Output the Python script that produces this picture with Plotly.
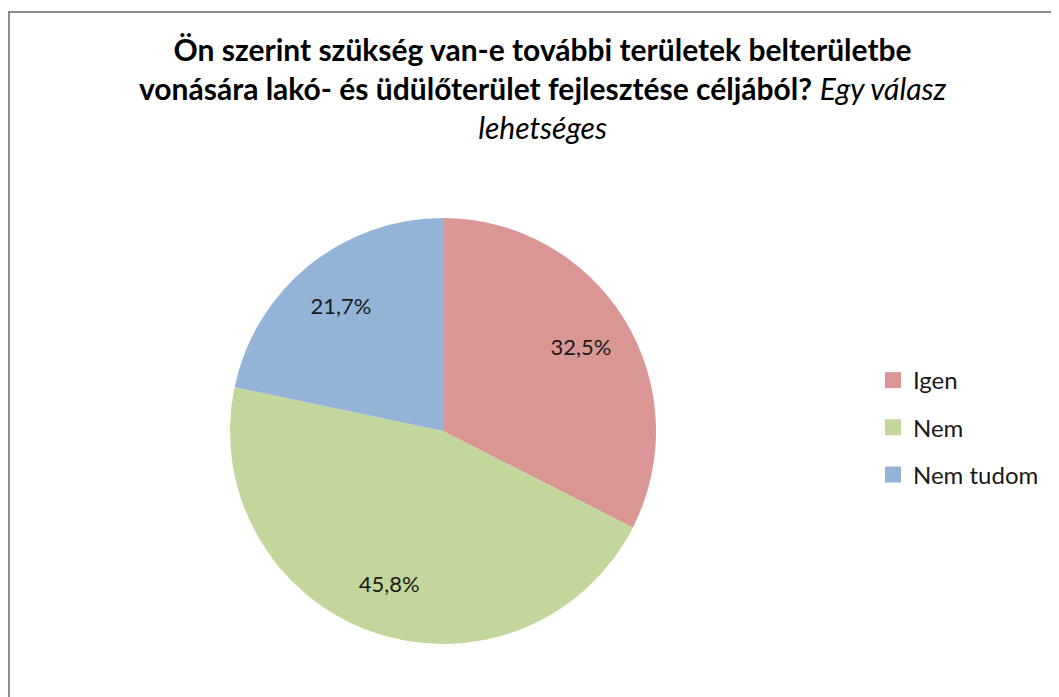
import plotly.graph_objects as go

categories = ["Igen", "Nem", "Nem tudom"]
values = [32.5, 45.8, 21.7]
colors = ["#D99694", "#C3D69B", "#95B3D7"]

title_line1 = "Ön szerint szükség van-e további területek belterületbe"
title_line2 = "vonására lakó- és üdülőterület fejlesztése céljából?"
title_italic1 = "Egy válasz"
title_italic2 = "lehetséges"

W, H = 1059, 697
FONT = "Lato, 'Noto Sans', sans-serif"
dom = dict(x=[222 / W, 648 / W], y=[1 - 636 / H, 1 - 210 / H])

fig = go.Figure()
# main pie (colours)
fig.add_trace(go.Pie(
    labels=categories, values=values, sort=False, direction="clockwise",
    rotation=0, marker=dict(colors=colors, line=dict(width=0)),
    textinfo="none", showlegend=False, hoverinfo="label+percent",
    domain=dom,
))
# transparent overlay ring used only to place the value labels further out
fig.add_trace(go.Pie(
    labels=categories, values=values, sort=False, direction="clockwise",
    rotation=0, hole=0.52,
    marker=dict(colors=["rgba(0,0,0,0)"] * 3, line=dict(width=0)),
    texttemplate="%{value:.1f}%", textposition="inside",
    insidetextorientation="horizontal",
    textfont=dict(family=FONT, size=22, color="#1a1a1a"),
    showlegend=False, hoverinfo="skip",
    domain=dom,
))

for c, col in zip(categories, colors):
    fig.add_trace(go.Scatter(
        x=[None], y=[None], mode="markers", name=c, legendgroup=c,
        marker=dict(symbol="square", size=16, color=col),
    ))

fig.add_annotation(
    xref="paper", yref="paper", x=534 / W, y=1 - 21 / H,
    xanchor="center", yanchor="top", showarrow=False, align="center",
    text=f"<b>{title_line1}<br>{title_line2}</b> <i>{title_italic1}<br>{title_italic2}</i>",
    font=dict(family=FONT, size=30, color="#000000"),
)

fig.add_shape(type="rect", xref="paper", yref="paper",
              x0=1 / W, x1=1.02, y0=-0.02, y1=1 - 4 / H,
              line=dict(color="#8C8C8C", width=2))

fig.update_layout(
    width=W, height=H, margin=dict(l=0, r=0, t=0, b=0),
    paper_bgcolor="white", plot_bgcolor="white",
    separators=", ",
    xaxis=dict(visible=False), yaxis=dict(visible=False),
    legend=dict(x=865 / W, y=1 - 350 / H, xanchor="left", yanchor="top",
                font=dict(family=FONT, size=24, color="#1a1a1a"),
                tracegroupgap=13, itemwidth=30, bgcolor="rgba(0,0,0,0)"),
)

fig.write_html("out.html")
